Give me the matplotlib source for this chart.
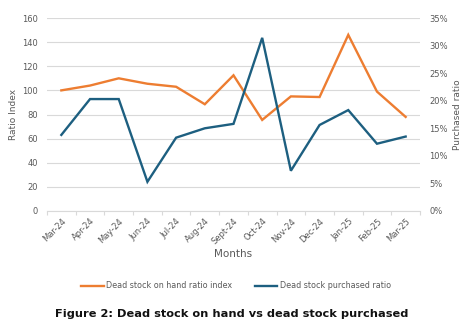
import numpy as np
import matplotlib
matplotlib.use("Agg")
import matplotlib.pyplot as plt
import matplotlib.ticker as mticker

# ─── Data ─────────────────────────────────────────────────────────────────────
MONTHS = ["Mar-24", "Apr-24", "May-24", "Jun-24", "Jul-24", "Aug-24", "Sept-24",
          "Oct-24", "Nov-24", "Dec-24", "Jan-25", "Feb-25", "Mar-25"]
ON_HAND_INDEX = [100, 104, 110, 105.5, 103, 88.5, 112.5, 75.5, 95, 94.5, 146, 99, 78]
PURCHASED_RATIO = [13.8, 20.3, 20.3, 5.3, 13.3, 15.0, 15.8, 31.4, 7.3, 15.6, 18.3, 12.2, 13.5]

ORANGE = "#ED7D31"
BLUE = "#1D5F80"
GREY = "#595959"

W, H = 476, 332
fig = plt.figure(figsize=(W / 100, H / 100), dpi=100)
ax = fig.add_axes([47 / W, (H - 211) / H, 373 / W, 193 / H])
ax2 = ax.twinx()

x = np.arange(len(MONTHS))
ax.plot(x, ON_HAND_INDEX, color=ORANGE, linewidth=1.7, solid_joinstyle="miter",
        label="Dead stock on hand ratio index", zorder=3)
ax2.plot(x, np.array(PURCHASED_RATIO) / 100, color=BLUE, linewidth=1.7,
         solid_joinstyle="miter", label="Dead stock purchased ratio", zorder=3)

ax.set_xlim(-0.5, len(MONTHS) - 0.5)
ax.set_ylim(0, 160)
ax.set_yticks(range(0, 161, 20))
ax2.set_ylim(0, 0.35)
ax2.set_yticks(np.arange(0, 0.351, 0.05))
ax2.yaxis.set_major_formatter(mticker.PercentFormatter(1.0, decimals=0))

ax.grid(axis="y", color="#D9D9D9", linewidth=0.8, zorder=0)
for a in (ax, ax2):
    for s in ("top", "right", "left", "bottom"):
        a.spines[s].set_visible(False)
    a.tick_params(axis="y", length=0, labelsize=6, labelcolor=GREY, pad=6.5)
ax.spines["bottom"].set_visible(True)
ax.spines["bottom"].set_color("#D9D9D9")
ax.spines["bottom"].set_linewidth(0.8)

# category boundaries as tick marks, labels at centres
ax.set_xticks(x)
ax.set_xticklabels(MONTHS, rotation=45, ha="right", rotation_mode="anchor",
                   fontsize=6, color=GREY)
ax.tick_params(axis="x", length=0, pad=4)
ax.set_xticks(np.arange(-0.5, len(MONTHS), 1), minor=True)
ax.tick_params(axis="x", which="minor", length=3, color="#D9D9D9", width=0.8)

ax.set_xlabel("Months", fontsize=7.5, color=GREY, labelpad=2)
ax.set_ylabel("Ratio Index", fontsize=6.5, color=GREY, labelpad=3)
ax2.set_ylabel("Purchased ratio", fontsize=6.5, color=GREY, labelpad=4)

h1, l1 = ax.get_legend_handles_labels()
h2, l2 = ax2.get_legend_handles_labels()
fig.legend(h1 + h2, l1 + l2, loc="center", bbox_to_anchor=(236 / W, 1 - 286 / H),
           ncol=2, frameon=False, fontsize=5.8, labelcolor=GREY,
           handlelength=2.8, handletextpad=0.3, columnspacing=2.8)

fig.text(232 / W, 1 - 314 / H, "Figure 2: Dead stock on hand vs dead stock purchased",
         ha="center", va="center", fontsize=8.2, fontweight="bold", color="#111111")

fig.savefig("out.png", dpi=100)
